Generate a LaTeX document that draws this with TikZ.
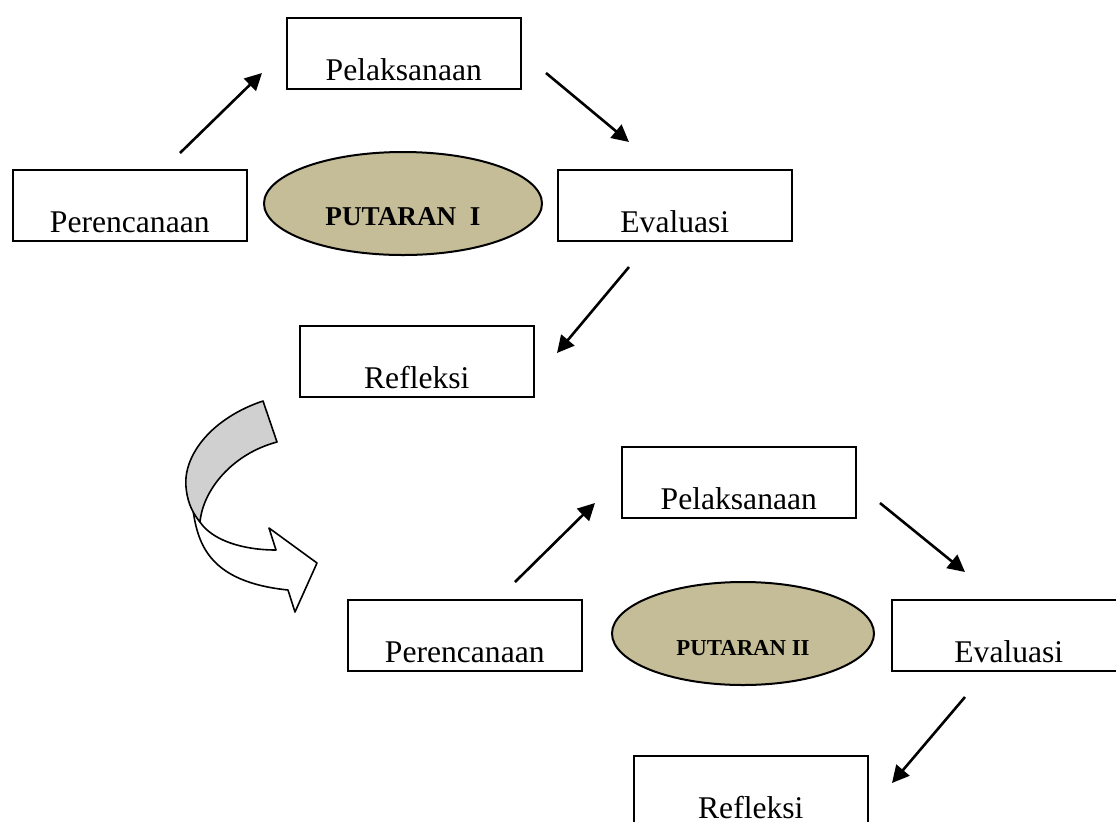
\documentclass[tikz,border=0pt]{standalone}
\usepackage{fontspec}
\setmainfont{Liberation Serif}
\usetikzlibrary{arrows.meta,shapes.geometric}
\definecolor{cycletan}{RGB}{196,189,151}
\definecolor{bandgray}{RGB}{208,208,208}
\begin{document}
\begin{tikzpicture}[x=0.5pt,y=-0.5pt,
  stagebox/.style={draw, line width=0.8pt, rectangle, minimum width=117pt,
    inner sep=0pt, text height=31.5pt, text depth=4pt, anchor=north west,
    font=\fontsize{15.8}{19}\selectfont},
  cycle/.style={draw, line width=1pt, ellipse, fill=cycletan, inner sep=0pt,
    minimum height=51.5pt, text height=21.5pt, text depth=0pt},
  flow/.style={line width=1.3pt, -{Triangle[length=8.5pt,width=8.5pt]}},
  band/.style={draw, line width=0.8pt, line join=round}]
\useasboundingbox (0,0) rectangle (1116,821);
\clip (0,0) rectangle (1116,821);

% round I
\node[stagebox] (pel1) at (286,17) {Pelaksanaan};
\node[stagebox] (per1) at (12,169) {Perencanaan};
\node[stagebox] (eva1) at (557,169) {Evaluasi};
\node[stagebox] (ref1) at (299,325) {Refleksi};
\node[cycle, minimum width=139pt,
  font=\fontsize{13.6}{16}\selectfont\bfseries] (put1) at (403,203.5) {PUTARAN\ \ I};

% round II
\node[stagebox] (pel2) at (621,446) {Pelaksanaan};
\node[stagebox] (per2) at (347,599) {Perencanaan};
\node[stagebox] (eva2) at (891,599) {Evaluasi};
\node[stagebox] (ref2) at (633,755) {Refleksi};
\node[cycle, minimum width=131pt,
  font=\fontsize{11.4}{13}\selectfont\bfseries] (put2) at (743,633.5) {PUTARAN II};

% arrow end points
\coordinate (a1s) at (180,153); \coordinate (a1e) at (262,73);
\coordinate (a2s) at (546,73);  \coordinate (a2e) at (629,142);
\coordinate (a3s) at (629,267); \coordinate (a3e) at (557,353);
\coordinate (a4s) at (515,582); \coordinate (a4e) at (595,503);
\coordinate (a5s) at (880,503); \coordinate (a5e) at (965,572);
\coordinate (a6s) at (965,697); \coordinate (a6e) at (892,783);

\draw[flow] (a1s) -- (a1e);
\draw[flow] (a2s) -- (a2e);
\draw[flow] (a3s) -- (a3e);
\draw[flow] (a4s) -- (a4e);
\draw[flow] (a5s) -- (a5e);
\draw[flow] (a6s) -- (a6e);

% curved block arrow between the rounds
\draw[band, fill=white] (193,510) .. controls (198,545) and (210,582) .. (288,590)
  -- (295,612) -- (317,563) -- (269,528) -- (276,550)
  .. controls (242,550) and (212,540) .. (200,522) -- cycle;
\draw[band, fill=bandgray] (263,401) .. controls (212,418) and (183,455) .. (186,487)
  .. controls (187,498) and (190,510) .. (200,522)
  .. controls (203,490) and (232,454) .. (277,442) -- cycle;
\end{tikzpicture}
\end{document}
